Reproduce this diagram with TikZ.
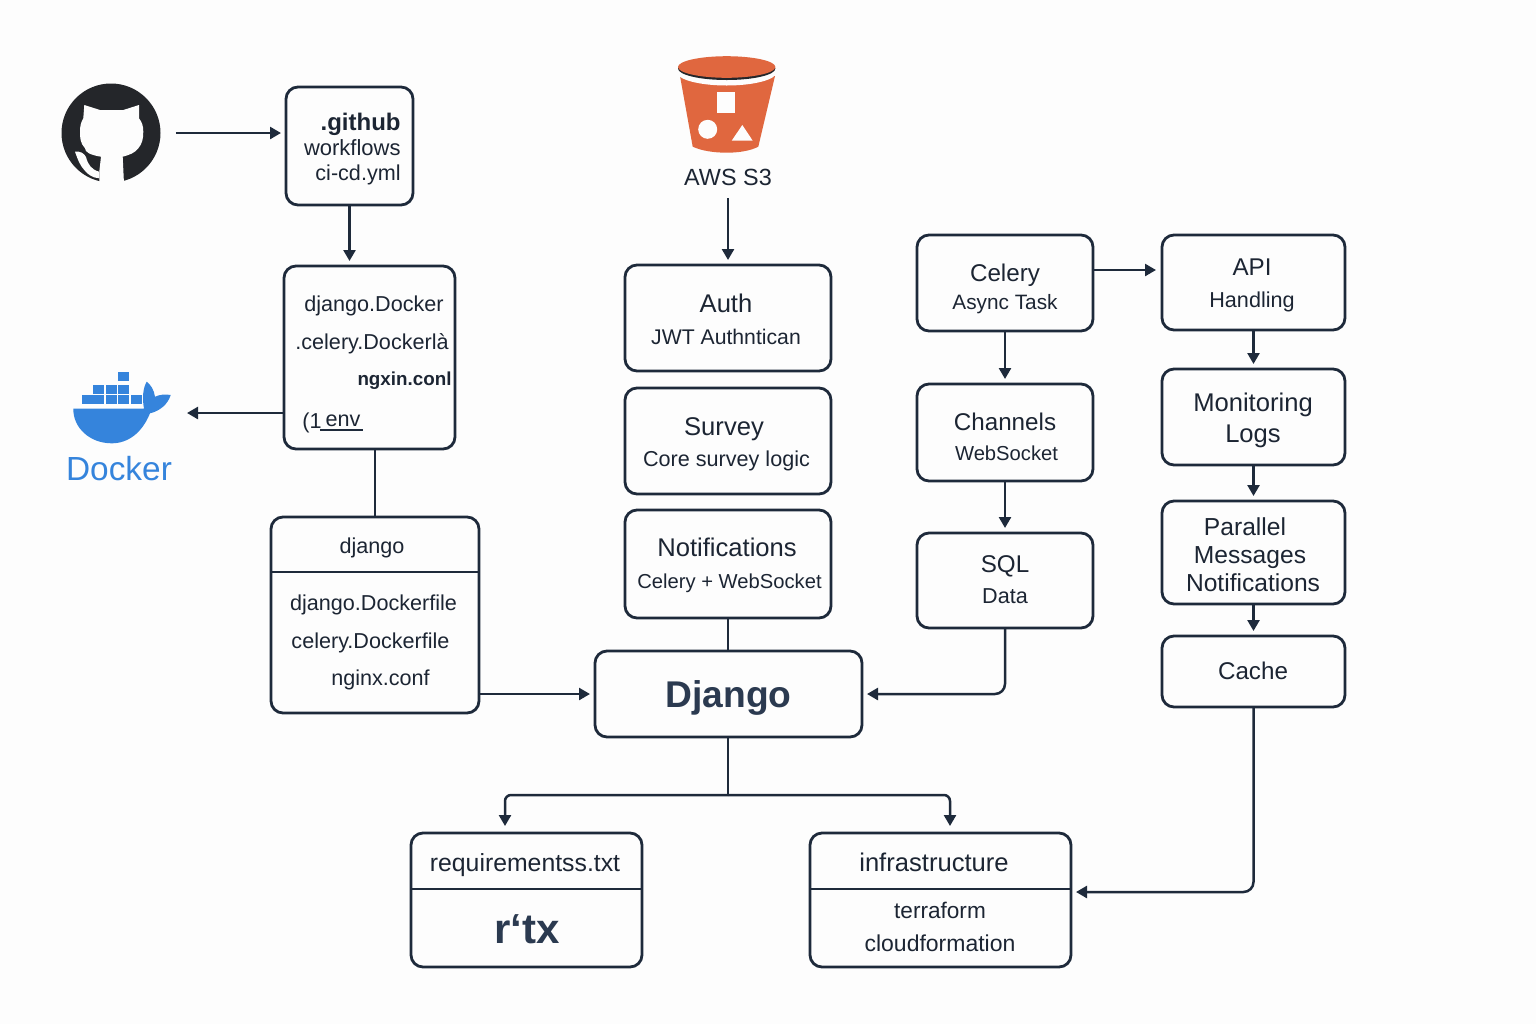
\documentclass[tikz,border=0pt]{standalone}
\usepackage{fontspec}
\setmainfont{Liberation Sans}
\usetikzlibrary{arrows.meta, positioning}
\definecolor{lnk}{HTML}{1E2A3B}
\definecolor{ink}{HTML}{1C2533}
\definecolor{slate}{HTML}{2B3A50}
\definecolor{bgc}{HTML}{FDFDFD}
\definecolor{ghdark}{HTML}{24262A}
\definecolor{dockblue}{HTML}{3584DC}
\definecolor{s3orange}{HTML}{E0673F}
\begin{document}
\begin{tikzpicture}[
	x=0.5pt, y=-0.5pt,
	box/.style={rectangle, draw=lnk, line width=1.4pt, rounded corners=6pt, inner sep=0pt, outer sep=0pt},
	conn/.style={draw=lnk, line width=1.25pt},
	big/.style={anchor=base, inner sep=0pt, text=ink, font=\fontsize{12.8}{15}\selectfont},
	small/.style={anchor=base, inner sep=0pt, text=ink, font=\fontsize{10.8}{13}\selectfont},
	fs/.style={font=\fontsize{#1}{15}\selectfont},
	fsb/.style={font=\fontsize{#1}{15}\selectfont\bfseries},
	heavy/.style={anchor=base, inner sep=0pt, text=slate, font=\fontsize{18.6}{22}\selectfont\bfseries},
	>={Triangle[length=5.5pt, width=6pt]}
]

\fill[bgc] (0,0) rectangle (1536,1024);

% boxes
\node[box, minimum width=63.5pt, minimum height=59pt] (wf) at (349.5,146) {};
\node[box, minimum width=85.5pt, minimum height=91.5pt] (dock) at (369.5,357.5) {};
\node[box, minimum width=104pt, minimum height=98pt] (djbox) at (375,615) {};
\node[box, minimum width=103pt, minimum height=53pt] (auth) at (728,318) {};
\node[box, minimum width=103pt, minimum height=53pt] (survey) at (728,441) {};
\node[box, minimum width=103pt, minimum height=54pt] (notif) at (728,564) {};
\node[box, minimum width=133.5pt, minimum height=43pt] (django) at (728.5,694) {};
\node[box, minimum width=88pt, minimum height=48pt] (celery) at (1005,283) {};
\node[box, minimum width=88pt, minimum height=48.5pt] (channels) at (1005,432.5) {};
\node[box, minimum width=88pt, minimum height=47.5pt] (sql) at (1005,580.5) {};
\node[box, minimum width=91.5pt, minimum height=47.5pt] (api) at (1253.5,282.5) {};
\node[box, minimum width=91.5pt, minimum height=48pt] (monitoring) at (1253.5,417) {};
\node[box, minimum width=91.5pt, minimum height=51.5pt] (parallel) at (1253.5,552.5) {};
\node[box, minimum width=91.5pt, minimum height=35.5pt] (cache) at (1253.5,671.5) {};
\node[box, minimum width=115.5pt, minimum height=67pt] (req) at (526.5,900) {};
\node[box, minimum width=130.5pt, minimum height=67pt] (infra) at (940.5,900) {};

% github mark
\node[circle, fill=ghdark, minimum size=49.5pt, inner sep=0pt] (gh) at (111,133) {};
\fill[bgc] (99.3,184) -- (99.3,171.7) -- (101,156.7) .. controls (90,155) and (85,152) .. (85,148.3) .. controls (80,143) and (80,137) .. (80,131.7) .. controls (80,126) and (81,122) .. (83.3,118.3) -- (84.3,105) -- (100,110) -- (123.3,110) -- (139,105) -- (139,118.3) .. controls (142,122) and (143.3,126) .. (143.3,131.7) .. controls (143.3,139) and (142,144) .. (138.3,148.3) .. controls (135,153) and (129,155) .. (122.7,156.7) -- (124,184) -- cycle;
\fill[bgc] (75,151.7) .. controls (80,151) and (84,153) .. (86,157) .. controls (88,165) and (92,170) .. (99.3,171.7) -- (99.3,178.3) .. controls (92,178) and (87,174) .. (81.7,166.7) .. controls (78,161) and (77,157) .. (75,151.7) -- cycle;

% docker whale
\fill[dockblue] (73.3,408.5) -- (144,408.5) .. controls (142,398) and (143,388) .. (146.7,381.7) .. controls (151,385) and (154,390) .. (155,396.7) .. controls (160,394.5) and (165,394) .. (170.7,395) .. controls (168,404) and (160,411) .. (150,413.3) .. controls (142,433) and (128,443.3) .. (111.7,443.3) .. controls (90,443.3) and (73,428) .. (73.3,408.5) -- cycle;
\foreach \xa/\ya in {117.7/371.7, 93.3/385, 105.7/385, 118.3/385, 81.7/395, 93.3/395, 105.7/395, 118.3/395, 130.7/395}
	\fill[dockblue] (\xa,\ya) rectangle ++(10.8,9);
\node[anchor=base, inner sep=0pt, text=dockblue, font=\fontsize{16.7}{20}\selectfont] (dockerT) at (119,480) {Docker};

% s3 bucket
\fill[s3orange] (680,76) -- (775,76) -- (758.3,146.7) .. controls (750,151) and (738,152.7) .. (726.7,152.7) .. controls (715,152.7) and (702,151) .. (692.7,146.7) -- cycle;
\fill[bgc] (726.7,72) ellipse [x radius=50, y radius=13.5];
\fill[ghdark] (726.7,68.5) ellipse [x radius=48.7, y radius=11.5];
\fill[s3orange] (726.7,67) ellipse [x radius=48.7, y radius=10.8];
\fill[bgc] (716.7,92.3) rectangle (735,112.7);
\fill[bgc] (707.7,129.3) circle [radius=9.5];
\fill[bgc] (742.3,125) -- (752.7,140.7) -- (731.7,140.7) -- cycle;
\node[big, fs=11.7] (s3T) at (728,185) {AWS S3};

% texts
\node[small, anchor=base east, fsb=12] (wfa) at (401,130) {.github};
\node[small, anchor=base east, fs=11] (wfb) at (401,155) {workflows};
\node[small, anchor=base east] (wfc) at (401,180) {ci-cd.yml};

\node[small] (dka) at (374,311) {django.Docker};
\node[small] (dkb) at (372,349) {.celery.Dockerlà};
\node[small, fsb=9.4] (dkc) at (404.5,385) {ngxin.conl};
\node[small] (dkd) at (312,428) {(1};
\node[small] (dke) at (343,426) {env};

\node[small] (dja) at (372,553) {django};
\node[small] (djb) at (373.5,610) {django.Dockerfile};
\node[small] (djc) at (370.5,648) {celery.Dockerfile};
\node[small] (djd) at (380.5,685) {nginx.conf};

\node[big] (autha) at (726,312) {Auth};
\node[small, fs=10.6] (authb) at (726,344) {JWT Authntican};
\node[big] (surveya) at (724,435) {Survey};
\node[small] (surveyb) at (726.5,466) {Core survey logic};
\node[big] (notifa) at (727,556) {Notifications};
\node[small, fs=10.1] (notifb) at (729.5,588) {Celery + WebSocket};
\node[heavy] (djangoT) at (728.5,707) {Django};

\node[big, fs=12.1] (celerya) at (1005,281) {Celery};
\node[small, fs=10.4] (celeryb) at (1005,309) {Async Task};
\node[big, fs=12.1] (channelsa) at (1005,430) {Channels};
\node[small, fs=10.1] (channelsb) at (1006.5,460) {WebSocket};
\node[big, fs=12.1] (sqla) at (1005,572) {SQL};
\node[small] (sqlb) at (1005,603) {Data};

\node[big, fs=12.1] (apia) at (1252,275) {API};
\node[small] (apib) at (1252,307) {Handling};
\node[big] (monitoringa) at (1253,411) {Monitoring};
\node[big] (monitoringb) at (1253,442) {Logs};
\node[big, fs=12.3] (parallela) at (1245,535) {Parallel};
\node[big, fs=12.3] (parallelb) at (1250,563) {Messages};
\node[big, fs=12.3] (parallelc) at (1253,591) {Notifications};
\node[big, fs=12.1] (cacheT) at (1253,679) {Cache};

\node[big, fs=12.4] (reqa) at (525,871) {requirementss.txt};
\node[heavy, fsb=21] (reqb) at (527,943) {r‘tx};
\node[big] (infraa) at (934,871) {infrastructure};
\node[small, fs=11.3] (infrab) at (940,918) {terraform};
\node[small, fs=11.5] (infrac) at (940,951) {cloudformation};

% dividers
\foreach \i/\y in {djbox/572, req/889, infra/889}
	\draw[conn] (\i.west |- 0,\y) -- (\i.east |- 0,\y);
\draw[lnk, line width=0.8pt] (320,430) -- (363,430);

% connectors
\coordinate (dockerin) at (187,413);
\coordinate (split) at (728,795);
\coordinate (reqin) at (505,833);
\coordinate (infraup) at (950,833);
\coordinate (infrain) at (1071,892);

\foreach \i/\j in {wf/dock, celery/channels, channels/sql, api/monitoring, monitoring/parallel, parallel/cache}
	\draw[conn, ->, shorten >=2.5pt] (\i.south) -- (\i.south |- \j.north);

\draw[conn] (notif.south) -- (notif.south |- django.north);
\draw[conn] (django.south -| split) -- (split);
\draw[conn] (djbox.north) -- (djbox.north |- dock.south);

\foreach \j in {reqin, infraup}
	\draw[conn, ->, rounded corners=3pt, shorten >=3.5pt] (split) -| (\j);

\draw[conn, ->, shorten <=7.5pt, shorten >=2.5pt] (gh.east) -- (gh.east -| wf.west);
\draw[conn, ->] (dock.west |- dockerin) -- (dockerin);
\draw[conn, ->, shorten >=2.5pt] (auth.north |- 0,198) -- (auth.north);
\draw[conn, ->, shorten >=2.5pt] (djbox.east |- django.west) -- (django.west);
\draw[conn, ->, shorten >=3pt] (celery.east |- 0,270) -- (api.west |- 0,270);
\draw[conn, ->, rounded corners=5pt, shorten >=2.5pt] (sql.south) |- (django.east);
\draw[conn, ->, rounded corners=5pt, shorten >=2.5pt] (cache.south) |- (infrain);

\end{tikzpicture}
\end{document}
